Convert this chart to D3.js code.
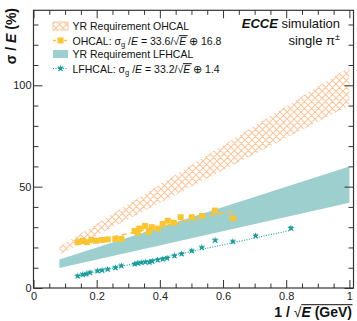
<!DOCTYPE html>
<html>
<head>
<meta charset="utf-8">
<script src="https://cdn.jsdelivr.net/npm/d3@7"></script>
<style>
body { margin: 0; background: #fff; }
text { font-family: "Liberation Sans", Arial, sans-serif; }
</style>
</head>
<body>
<script>
var width = 357;
var height = 321;

// OHCAL points: x = 1/sqrt(E), y = sigma/E (%)
var ohcalX = [0.140, 0.156, 0.169, 0.183, 0.198, 0.217, 0.235, 0.259, 0.278, 0.320, 0.330, 0.335,
              0.353, 0.365, 0.374, 0.393, 0.409, 0.425, 0.444, 0.466, 0.501, 0.533, 0.574, 0.631];
var ohcalY = [22.6, 23.3, 22.6, 23.7, 23.3, 23.7, 24.0, 24.2, 24.2, 28.1, 27.3, 29.3,
              30.6, 27.6, 30.0, 29.3, 31.6, 33.2, 32.2, 34.9, 34.9, 35.5, 38.2, 34.4];

// LFHCAL points
var lfhcalX = [0.140, 0.156, 0.167, 0.179, 0.203, 0.217, 0.235, 0.259, 0.278, 0.320, 0.330, 0.341, 0.354,
               0.367, 0.376, 0.393, 0.409, 0.423, 0.446, 0.469, 0.501, 0.533, 0.575, 0.631, 0.703, 0.815];
var lfhcalY = [5.9, 6.6, 6.9, 7.6, 8.4, 8.7, 9.2, 10.0, 10.9, 11.8, 12.2, 12.5, 12.8,
               12.7, 13.2, 13.8, 14.2, 14.7, 15.9, 16.8, 18.3, 19.9, 23.5, 22.9, 25.7, 29.5];

// fit parameters [stochastic, constant] and fit range
var ohcalFit = [33.6, 16.8];
var ohcalFitRange = [0.14, 0.63];
var lfhcalFit = [33.2, 1.4];
var lfhcalFitRange = [0.14, 0.815];

// YR requirement bands
var bandX = [0.082, 1.0];
var ohcalLow = [16.5, 90];
var ohcalHigh = [20.3, 109];
var lfhcalLow = [9.9, 42];
var lfhcalHigh = [14.1, 60];

var xMajor = [0, 0.2, 0.4, 0.6, 0.8, 1];
var yMajor = [0, 50, 100];

var svg = d3.select("body")
            .append("svg")
            .attr("width", width)
            .attr("height", height);

var x = d3.scaleLinear().domain([0, 1.013]).range([33.5, 353.5]);
var y = d3.scaleLinear().domain([0, 137]).range([288, 10.3]);

var defs = svg.append("defs");
var hatch = defs.append("pattern")
                .attr("id", "hatch")
                .attr("patternUnits", "userSpaceOnUse")
                .attr("width", 7)
                .attr("height", 7);
hatch.append("path")
     .attr("d", "M0,0L7,7M7,0L0,7M-1,6L1,8M6,-1L8,1M-1,1L1,-1M6,8L8,6")
     .attr("stroke", "#fdc79b")
     .attr("stroke-width", 1.1)
     .attr("fill", "none");

//bands
function band(lo, hi) {
    return d3.area()
             .x(function(d, i) { return x(bandX[i]); })
             .y0(function(d, i) { return y(lo[i]); })
             .y1(function(d, i) { return y(hi[i]); })(bandX);
}
svg.append("path")
   .attr("d", band(ohcalLow, ohcalHigh))
   .attr("fill", "url(#hatch)");
svg.append("path")
   .attr("d", band(lfhcalLow, lfhcalHigh))
   .attr("fill", "#9dcfcf");

//fit lines
function fitLine(p, r) {
    return d3.line()
             .x(function(d) { return x(d); })
             .y(function(d) { return y(p[0] * d + p[1]); })(r);
}
svg.append("path")
   .attr("d", fitLine(ohcalFit, ohcalFitRange))
   .attr("stroke", "#fcc42e")
   .attr("stroke-width", 1.5)
   .attr("stroke-dasharray", "5,4")
   .attr("fill", "none");
svg.append("path")
   .attr("d", fitLine(lfhcalFit, lfhcalFitRange))
   .attr("stroke", "#2aa8a8")
   .attr("stroke-width", 1.2)
   .attr("stroke-dasharray", "1,1.5")
   .attr("fill", "none");

//points
svg.selectAll("rect.oh")
   .data(ohcalX)
   .enter()
   .append("rect")
   .attr("class", "oh")
   .attr("x", function(d) { return x(d) - 3; })
   .attr("y", function(d, i) { return y(ohcalY[i]) - 3; })
   .attr("width", 6)
   .attr("height", 6)
   .attr("fill", "#fcc42e");

var star = d3.symbol().type(d3.symbolStar).size(15);
var cross = d3.symbol().type(d3.symbolX).size(14);
function starMark(sel) {
    sel.append("path").attr("d", star).attr("fill", "#179c9c");
    sel.append("path").attr("d", cross).attr("fill", "none").attr("stroke", "#179c9c").attr("stroke-width", 1);
}
svg.selectAll("g.lf")
   .data(lfhcalX)
   .enter()
   .append("g")
   .attr("class", "lf")
   .attr("transform", function(d, i) { return "translate(" + x(d) + "," + y(lfhcalY[i]) + ")"; })
   .call(starMark);

//frame
var axisCol = "#333";
svg.append("rect")
   .attr("x", x(0))
   .attr("y", y(137))
   .attr("width", x(1.013) - x(0))
   .attr("height", y(0) - y(137))
   .attr("fill", "none")
   .attr("stroke", axisCol)
   .attr("stroke-width", 1.2);

var xMinor = d3.range(0, 1.01, 0.05).filter(function(v) { return Math.abs(v * 5 - Math.round(v * 5)) > 1e-6; });
var yMinor = d3.range(0, 137, 10).filter(function(v) { return v % 50 != 0; });

function ticks(g) {
    g.selectAll("path.domain").remove();
    g.selectAll("line").attr("stroke", axisCol);
    g.selectAll("text").attr("fill", "#222").attr("font-size", "11px").attr("font-family", "Liberation Sans, Arial, sans-serif");
}

svg.append("g").attr("transform", "translate(0,288)")
   .call(d3.axisBottom(x).tickValues(xMajor).tickFormat(d3.format("~g")).tickSize(-8).tickPadding(4))
   .call(ticks);
svg.append("g").attr("transform", "translate(0,288)")
   .call(d3.axisBottom(x).tickValues(xMinor).tickFormat("").tickSize(-4.5))
   .call(ticks);
svg.append("g").attr("transform", "translate(0," + y(137) + ")")
   .call(d3.axisTop(x).tickValues(xMajor).tickFormat("").tickSize(-8))
   .call(ticks);
svg.append("g").attr("transform", "translate(0," + y(137) + ")")
   .call(d3.axisTop(x).tickValues(xMinor).tickFormat("").tickSize(-4.5))
   .call(ticks);
svg.append("g").attr("transform", "translate(" + x(0) + ",0)")
   .call(d3.axisLeft(y).tickValues(yMajor).tickSize(-9).tickPadding(2))
   .call(ticks);
svg.append("g").attr("transform", "translate(" + x(0) + ",0)")
   .call(d3.axisLeft(y).tickValues(yMinor).tickFormat("").tickSize(-5))
   .call(ticks);
svg.append("g").attr("transform", "translate(" + x(1.013) + ",0)")
   .call(d3.axisRight(y).tickValues(yMajor).tickFormat("").tickSize(-9))
   .call(ticks);
svg.append("g").attr("transform", "translate(" + x(1.013) + ",0)")
   .call(d3.axisRight(y).tickValues(yMinor).tickFormat("").tickSize(-5))
   .call(ticks);

//overline helper for sqrt
function overline(t, from, to) {
    var a = from.node().getBBox();
    var b = to.node().getBBox();
    var g = t.node().parentNode;
    d3.select(g).append("line")
      .attr("x1", a.x + a.width - 0.5)
      .attr("x2", b.x + b.width + 0.5)
      .attr("y1", a.y + 1.2)
      .attr("y2", a.y + 1.2)
      .attr("stroke", "#111")
      .attr("stroke-width", 1);
}

//axis titles
var yt = svg.append("g").attr("transform", "translate(16,8) rotate(-90)");
var ytt = yt.append("text")
            .attr("text-anchor", "end")
            .attr("font-size", "14px")
            .attr("font-weight", "bold")
            .attr("fill", "#111");
ytt.append("tspan").text("σ / ");
ytt.append("tspan").attr("font-style", "italic").text("E");
ytt.append("tspan").text(" (%)");

var xt = svg.append("g");
var xtt = xt.append("text")
            .attr("x", 352)
            .attr("y", 316.5)
            .attr("text-anchor", "end")
            .attr("font-size", "14px")
            .attr("font-weight", "bold")
            .attr("fill", "#111");
xtt.append("tspan").text("1 /  ");
var xs = xtt.append("tspan").attr("font-weight", "normal").text("√");
xtt.append("tspan").attr("font-style", "italic").text("E");
var xe = xtt.append("tspan").text(" (GeV)");
overline(xtt, xs, xe);

//top right label
var lab = svg.append("text")
             .attr("x", 340)
             .attr("y", 28)
             .attr("text-anchor", "end")
             .attr("font-size", "13px")
             .attr("fill", "#111");
lab.append("tspan").attr("font-weight", "bold").attr("font-style", "italic").text("ECCE");
lab.append("tspan").text(" simulation");
var lab2 = svg.append("text")
              .attr("x", 340)
              .attr("y", 45)
              .attr("text-anchor", "end")
              .attr("font-size", "13px")
              .attr("fill", "#111");
lab2.append("tspan").text("single π");
lab2.append("tspan").attr("font-size", "9px").attr("dy", -5).text("±");

//legend
var lx0 = 53, lx1 = 68, ltx = 72.5;
var rows = [26, 40.5, 54, 68.5];
var leg = svg.append("g");

leg.append("rect")
   .attr("x", lx0).attr("y", rows[0] - 4)
   .attr("width", lx1 - lx0).attr("height", 8)
   .attr("fill", "url(#hatch)")
   .attr("stroke", "#fdc79b")
   .attr("stroke-width", 1);
leg.append("line")
   .attr("x1", lx0).attr("x2", lx1)
   .attr("y1", rows[1]).attr("y2", rows[1])
   .attr("stroke", "#fcc42e").attr("stroke-width", 1.5)
   .attr("stroke-dasharray", "3,2.5");
leg.append("rect")
   .attr("x", (lx0 + lx1) / 2 - 3).attr("y", rows[1] - 3)
   .attr("width", 6).attr("height", 6)
   .attr("fill", "#fcc42e");
leg.append("rect")
   .attr("x", lx0).attr("y", rows[2] - 4)
   .attr("width", lx1 - lx0).attr("height", 8)
   .attr("fill", "#9dcfcf");
leg.append("line")
   .attr("x1", lx0).attr("x2", lx1)
   .attr("y1", rows[3]).attr("y2", rows[3])
   .attr("stroke", "#2aa8a8").attr("stroke-width", 1.2)
   .attr("stroke-dasharray", "1,1.5");
leg.append("g")
   .attr("transform", "translate(" + (lx0 + lx1) / 2 + "," + rows[3] + ")")
   .call(starMark);

function legText(row) {
    return leg.append("text")
              .attr("x", ltx)
              .attr("y", rows[row] + 4)
              .attr("font-size", "10.5px")
              .attr("fill", "#111");
}
legText(0).text("YR Requirement OHCAL");
legText(2).text("YR Requirement LFHCAL");

function fitText(row, name, p) {
    var t = legText(row);
    t.append("tspan").text(name + ": σ");
    t.append("tspan").attr("font-size", "7.5px").attr("dy", 2.5).text("g");
    t.append("tspan").attr("dy", -2.5).text(" /");
    t.append("tspan").attr("font-style", "italic").text("E");
    t.append("tspan").text(" =  " + p[0] + "/");
    var s = t.append("tspan").text("√");
    var e = t.append("tspan").attr("font-style", "italic").text("E");
    t.append("tspan").text(" ⊕ " + p[1]);
    overline(t, s, e);
}
fitText(1, "OHCAL", ohcalFit);
fitText(3, "LFHCAL", lfhcalFit);
</script>
</body>
</html>
